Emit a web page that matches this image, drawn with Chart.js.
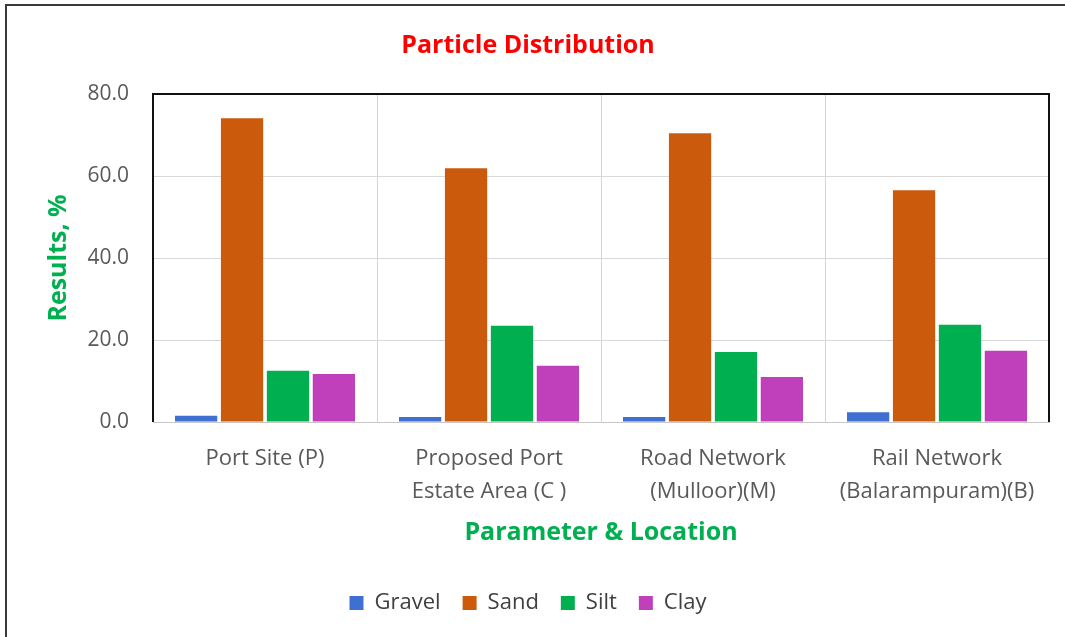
<!DOCTYPE html>
<html>
<head>
<meta charset="utf-8">
<script src="https://cdn.jsdelivr.net/npm/chart.js@4/dist/chart.umd.min.js"></script>
<style>
  html, body { margin: 0; padding: 0; background: #fff; }
  .frame {
    position: absolute; left: 5px; top: 4px;
    width: 1060px; height: 633px;
    border-left: 2px solid #3a3a3a;
    border-top: 2px solid #3a3a3a;
    box-sizing: border-box;
  }
  .frame canvas { display: block; }
</style>
</head>
<body>
<div class="frame"><canvas id="chart" width="1058" height="631"></canvas></div>
<script>
// categories and series
const locations = [
  'Port Site (P)',
  ['Proposed Port', 'Estate Area (C )'],
  ['Road Network', '(Mulloor)(M)'],
  ['Rail Network', '(Balarampuram)(B)']
];
const gravel = [1.5, 1.2, 1.2, 2.4];
const sand = [74.1, 61.9, 70.4, 56.5];
const silt = [12.5, 23.5, 17.1, 23.7];
const clay = [11.7, 13.7, 11.0, 17.4];
const yTicks = [0, 20, 40, 60, 80];

const font = "'Open Sans', 'Noto Sans', sans-serif";
const green = '#00b050';

// black box on top, left and right of the plot area
const plotBox = {
  id: 'plotBox',
  afterDraw(chart) {
    const a = chart.chartArea;
    const ctx = chart.ctx;
    ctx.save();
    ctx.strokeStyle = '#111';
    ctx.lineWidth = 2;
    ctx.beginPath();
    ctx.moveTo(a.left, a.bottom);
    ctx.lineTo(a.left, a.top);
    ctx.lineTo(a.right, a.top);
    ctx.lineTo(a.right, a.bottom);
    ctx.stroke();
    ctx.restore();
  }
};

function ds(label, data, color) {
  return {
    label: label,
    data: data,
    backgroundColor: color,
    borderWidth: 0,
    barPercentage: 0.92,
    categoryPercentage: 0.82
  };
}

new Chart(document.getElementById('chart'), {
  type: 'bar',
  data: {
    labels: locations,
    datasets: [
      ds('Gravel', gravel, '#3f6fd0'),
      ds('Sand', sand, '#cc5a0c'),
      ds('Silt', silt, '#00b050'),
      ds('Clay', clay, '#c040bc')
    ]
  },
  options: {
    responsive: false,
    animation: false,
    layout: { padding: { left: 0, right: 16, top: 0, bottom: 13 } },
    plugins: {
      title: {
        display: true,
        text: 'Particle Distribution',
        color: '#ff0000',
        font: { family: font, size: 25, weight: 'bold' },
        padding: { top: 25, bottom: 33 }
      },
      legend: {
        position: 'bottom',
        labels: {
          color: '#404040',
          font: { family: font, size: 22 },
          boxWidth: 14,
          boxHeight: 14,
          padding: 22
        }
      },
      tooltip: { enabled: false }
    },
    scales: {
      x: {
        afterFit(axis) { axis.height = 148; },
        grid: { color: '#d4d4d4', offset: true, drawTicks: false },
        border: { color: '#c8c8c8' },
        ticks: {
          color: '#595959',
          font: { family: font, size: 22, lineHeight: 1.5 },
          padding: 20
        },
        title: {
          display: true,
          text: 'Parameter & Location',
          color: green,
          font: { family: font, size: 25, weight: 'bold' },
          padding: { top: 0, bottom: 22 }
        }
      },
      y: {
        min: 0,
        max: 80,
        afterBuildTicks(axis) { axis.ticks = yTicks.map(v => ({ value: v })); },
        afterFit(axis) { axis.width = 146; },
        grid: { color: '#d9d9d9', drawTicks: false },
        border: { display: false },
        ticks: {
          color: '#595959',
          font: { family: font, size: 21 },
          padding: 24,
          callback: v => v.toFixed(1)
        },
        title: {
          display: true,
          text: 'Results, %',
          color: green,
          font: { family: font, size: 25, weight: 'bold' },
          padding: { top: 37, bottom: 0 }
        }
      }
    }
  },
  plugins: [plotBox]
});
</script>
</body>
</html>
